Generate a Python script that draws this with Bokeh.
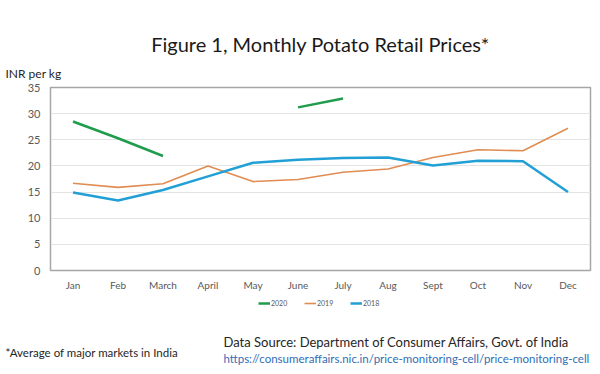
from bokeh.plotting import figure
from bokeh.models import Legend, LegendItem, Title
from bokeh.layouts import column
from bokeh.embed import file_html
from bokeh.resources import INLINE

months = ["Jan", "Feb", "March", "April", "May", "June", "July", "Aug", "Sept", "Oct", "Nov", "Dec"]
nan = float("nan")
p2020 = [28.5, 25.3, 21.9, nan, nan, 31.2, 32.9, nan, nan, nan, nan, nan]
p2019 = [16.7, 15.9, 16.6, 20.0, 17.0, 17.4, 18.8, 19.4, 21.6, 23.1, 22.9, 27.2]
p2018 = [14.9, 13.4, 15.4, 18.0, 20.6, 21.2, 21.5, 21.6, 20.1, 21.0, 20.9, 15.0]
series = [p2020, p2019, p2018]
series_names = ["2020", "2019", "2018"]
series_colors = ["#1f9d4c", "#e08c52", "#22a0d6"]
series_widths = [2.5, 1.6, 2.5]
yticks = [0, 5, 10, 15, 20, 25, 30, 35]

FONT = "Lato"
W = 600


def title(fig, text, place, size, color, align, offset, standoff, valign):
    fig.add_layout(Title(text=text, align=align, offset=offset, standoff=standoff,
                         vertical_align=valign, text_font=FONT, text_font_size=size,
                         text_color=color, text_font_style="normal"), place)


# ---- main chart ----
p = figure(x_range=months, y_range=(0, 35), width=W, height=293,
           output_backend="svg", toolbar_location=None,
           min_border_left=50, min_border_right=10, min_border_top=87, min_border_bottom=23)
p.outline_line_color = "#a6a6a6"
p.outline_line_width = 1.5
p.xgrid.grid_line_color = None
p.ygrid.grid_line_color = "#e3e3e3"
p.yaxis.ticker = yticks
p.yaxis.axis_line_color = "#a6a6a6"
p.yaxis.major_tick_line_color = None
p.yaxis.minor_tick_line_color = None
p.yaxis.major_label_text_font = FONT
p.yaxis.major_label_text_font_size = "11px"
p.yaxis.major_label_text_color = "#595959"
p.yaxis.major_label_standoff = 4
p.xaxis.axis_line_color = None
p.xaxis.major_tick_line_color = None
p.xaxis.major_label_text_font = FONT
p.xaxis.major_label_text_font_size = "10px"
p.xaxis.major_label_text_color = "#595959"
p.xaxis.major_label_standoff = 2

for vals, c, w in zip(series, series_colors, series_widths):
    p.line(months, vals, line_color=c, line_width=w)

title(p, "INR per kg", "above", "12px", "#262626", "left", -45, 13, "bottom")
title(p, "Figure 1, Monthly Potato Retail Prices*", "above", "20px", "#1a1a1a", "center", 0, 4, "bottom")

# ---- footer: legend + notes ----
foot = figure(x_range=months, y_range=(0, 1), width=W, height=81,
              output_backend="svg", toolbar_location=None,
              x_axis_location=None, y_axis_location=None,
              min_border_left=50, min_border_right=10, min_border_top=0, min_border_bottom=36)
foot.grid.grid_line_color = None
foot.outline_line_color = None

items = []
for name, vals, c, w in zip(series_names, series, series_colors, series_widths):
    r = foot.line(months, vals, line_color=c, line_width=w)
    items.append(LegendItem(label=name, renderers=[r]))

legend = Legend(items=items, orientation="horizontal", location=(208, 30),
                label_text_font=FONT, label_text_font_size="7px", label_text_color="#595959",
                glyph_width=12, glyph_height=10, label_height=10, label_standoff=1, spacing=13,
                padding=0, margin=0, border_line_color=None, background_fill_alpha=0)
foot.add_layout(legend)

title(foot, "Data Source: Department of Consumer Affairs, Govt. of India", "below", "13px", "#262626", "left", 173, -11, "middle")
title(foot, "*Average of major markets in India", "below", "11.5px", "#262626", "left", -45, -2, "middle")
title(foot, "https://consumeraffairs.nic.in/price-monitoring-cell/price-monitoring-cell", "below", "11.5px", "#2f6eb5", "left", 173, -15, "middle")

layout = column(p, foot, spacing=0)
open("out.html", "w").write(file_html(layout, INLINE))
